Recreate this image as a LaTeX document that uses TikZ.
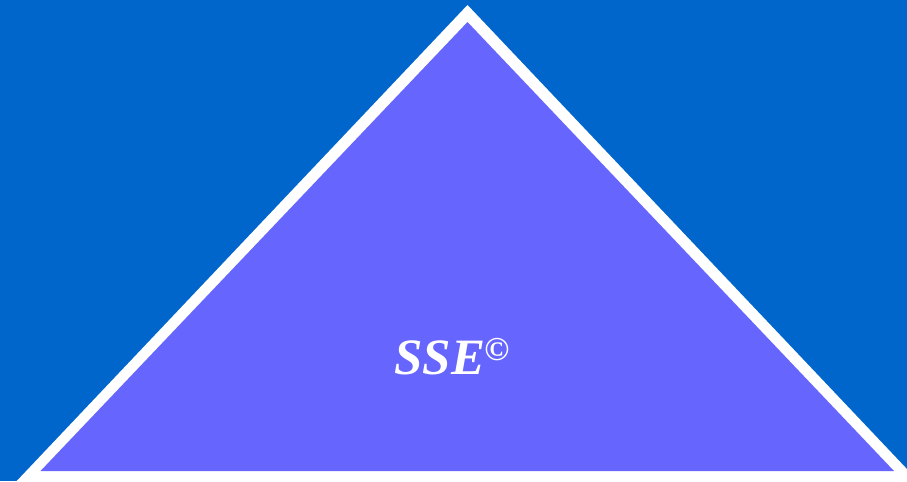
\documentclass[tikz,border=0pt]{standalone}
\usepackage{fontspec}
\setmainfont{Liberation Serif}
\usepackage{tikz}
\usetikzlibrary{calc}
\definecolor{skyblue}{HTML}{0066CC}
\definecolor{pyramidfill}{HTML}{6666FF}

\begin{document}
\begin{tikzpicture}[x=0.02cm,y=-0.02cm]
\fill[skyblue] (0,0) rectangle (907,481);
\useasboundingbox (0,0) rectangle (907,481);
\begin{scope}
\clip (0,0) rectangle (907,481);
\fill[white] (467.5,5)--(467.5-0.947*520,525)--(467.5+0.947*520,525)--cycle;
\end{scope}
\fill[pyramidfill] (467.5,22)--(40.5,471)--(894,471)--cycle;
\node[text=white,inner sep=0pt,font=\fontsize{29}{34}\selectfont\bfseries\itshape] (brand) at (452,357)
{SSE\kern-0.5pt\raisebox{0.6ex}{\fontsize{19}{20}\selectfont\upshape ©}};
\end{tikzpicture}
\end{document}
